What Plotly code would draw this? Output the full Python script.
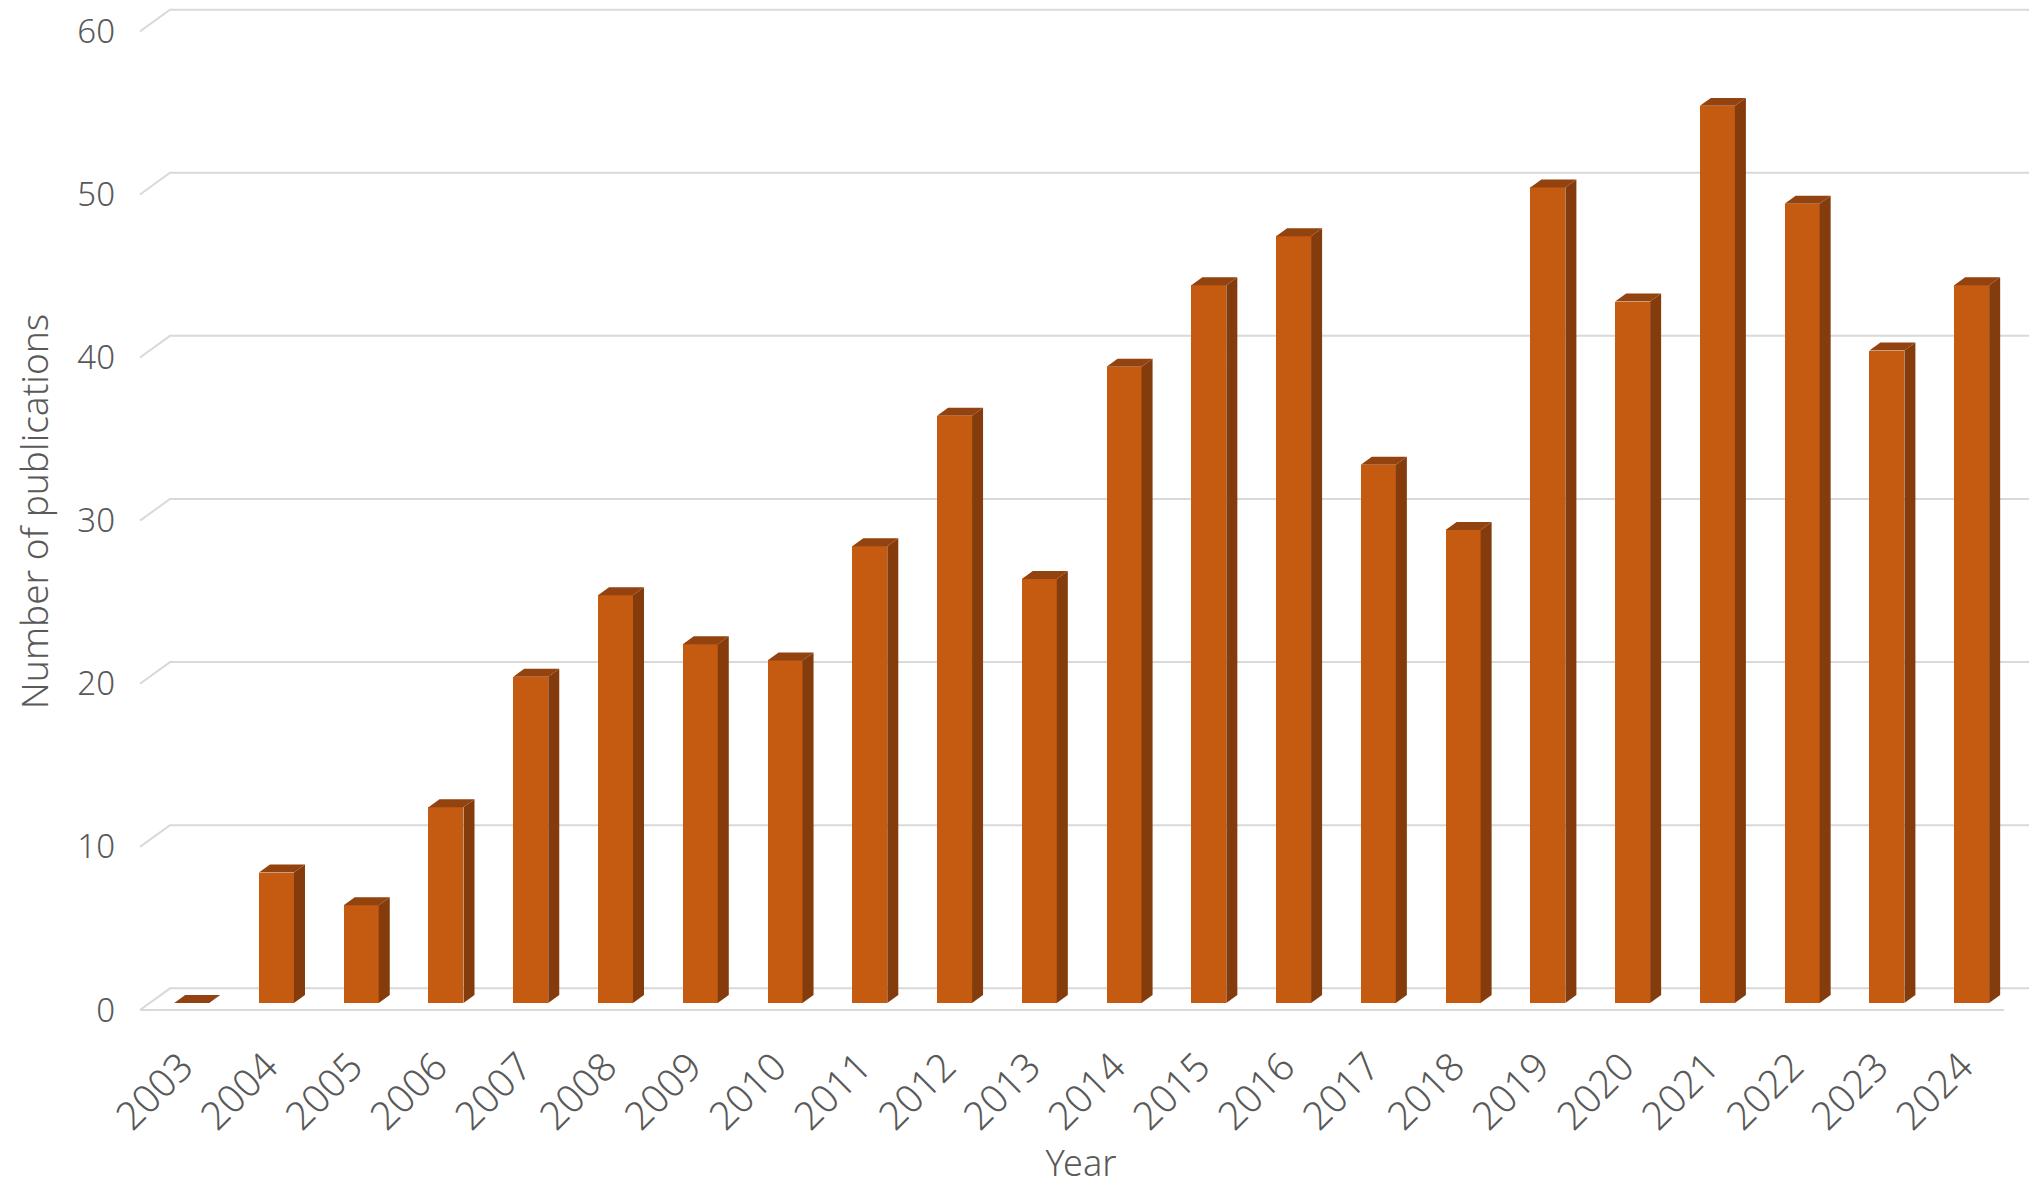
import plotly.graph_objects as go

years = [str(y) for y in range(2003, 2025)]
counts = [0, 8, 6, 12, 20, 25, 22, 21, 28, 36, 26, 39, 44, 47, 33, 29, 50, 43, 55, 49, 40, 44]
y_ticks = [0, 10, 20, 30, 40, 50, 60]

FRONT_C = "#C55A11"
SIDE_C = "#843C0C"
TOP_C = "#93430F"
GRID_C = "#D9D9D9"
TEXT_C = "#595959"

# fake 3d geometry (in axis units)
bw = 0.413        # bar front width
ddx, ddy = 0.13, 0.49   # bar depth
front_off = -0.43  # front plane of the wall/floor relative to bar front
back_off = 0.90    # back wall
x_lf, x_lb = -0.61, -0.256   # left edge front/back
x_rf, x_rb = 21.38, 21.80

xs = list(range(len(years)))

# wall grid lines + floor, kept under the bars
shapes = []
for t in y_ticks:
    shapes.append(dict(type="path", xref="x", yref="y", layer="below",
                       path=f"M{x_lf},{t + front_off} L{x_lb},{t + back_off} L{x_rb},{t + back_off}",
                       line=dict(color=GRID_C, width=2)))
shapes.append(dict(type="line", xref="x", yref="y", layer="below",
                   x0=x_lf, x1=x_rf, y0=front_off, y1=front_off,
                   line=dict(color=GRID_C, width=2)))

# side and top faces of the bars
sx, sy, tx, ty = [], [], [], []
for i, v in zip(xs, counts):
    r = i + bw / 2
    l = i - bw / 2
    sx += [r, r + ddx, r + ddx, r, r, None]
    sy += [0, ddy, v + ddy, v, 0, None]
    tx += [l, r, r + ddx, l + ddx, l, None]
    ty += [v, v, v + ddy, v + ddy, v, None]

fig = go.Figure()
fig.add_trace(go.Bar(x=xs, y=counts, width=bw, marker=dict(color=FRONT_C, line=dict(width=0)),
                     customdata=years, hovertemplate="%{customdata}: %{y}<extra></extra>",
                     showlegend=False))
fig.add_trace(go.Scatter(x=sx, y=sy, fill="toself", fillcolor=SIDE_C, mode="lines",
                         line=dict(width=0, color=SIDE_C), hoverinfo="skip", showlegend=False))
fig.add_trace(go.Scatter(x=tx, y=ty, fill="toself", fillcolor=TOP_C, mode="lines",
                         line=dict(width=0, color=TOP_C), hoverinfo="skip", showlegend=False))

# page body has an 8px margin, so the plot area is shifted to compensate
fig.update_layout(
    width=2029, height=1179,
    margin=dict(l=117, r=0, t=0, b=172),
    plot_bgcolor="white", paper_bgcolor="white",
    font=dict(family="Noto Sans", color=TEXT_C, size=32, weight=300),
    bargap=0,
    shapes=shapes,
)
fig.update_xaxes(
    range=[-0.787, 21.771], tickvals=xs, ticktext=years, tickangle=-45,
    tickfont=dict(size=39, color=TEXT_C, weight=300), showgrid=False, zeroline=False,
    showline=False, ticks="", automargin=False, ticklabelstandoff=20, ticklabelshift=-10,
    title=dict(text="Year", font=dict(size=36, color=TEXT_C, weight=300), standoff=34),
)
fig.update_yaxes(
    range=[-0.735, 61.0], tickvals=[t + front_off for t in y_ticks],
    ticktext=[str(t) for t in y_ticks], tickfont=dict(size=33, color=TEXT_C, weight=300),
    showgrid=False, zeroline=False, showline=False, ticks="", automargin=False,
    ticklabelstandoff=9, ticklabeloverflow="allow",
    title=dict(text="Number of publications", font=dict(size=37, color=TEXT_C, weight=300), standoff=59),
)

fig.write_html("out.html")
